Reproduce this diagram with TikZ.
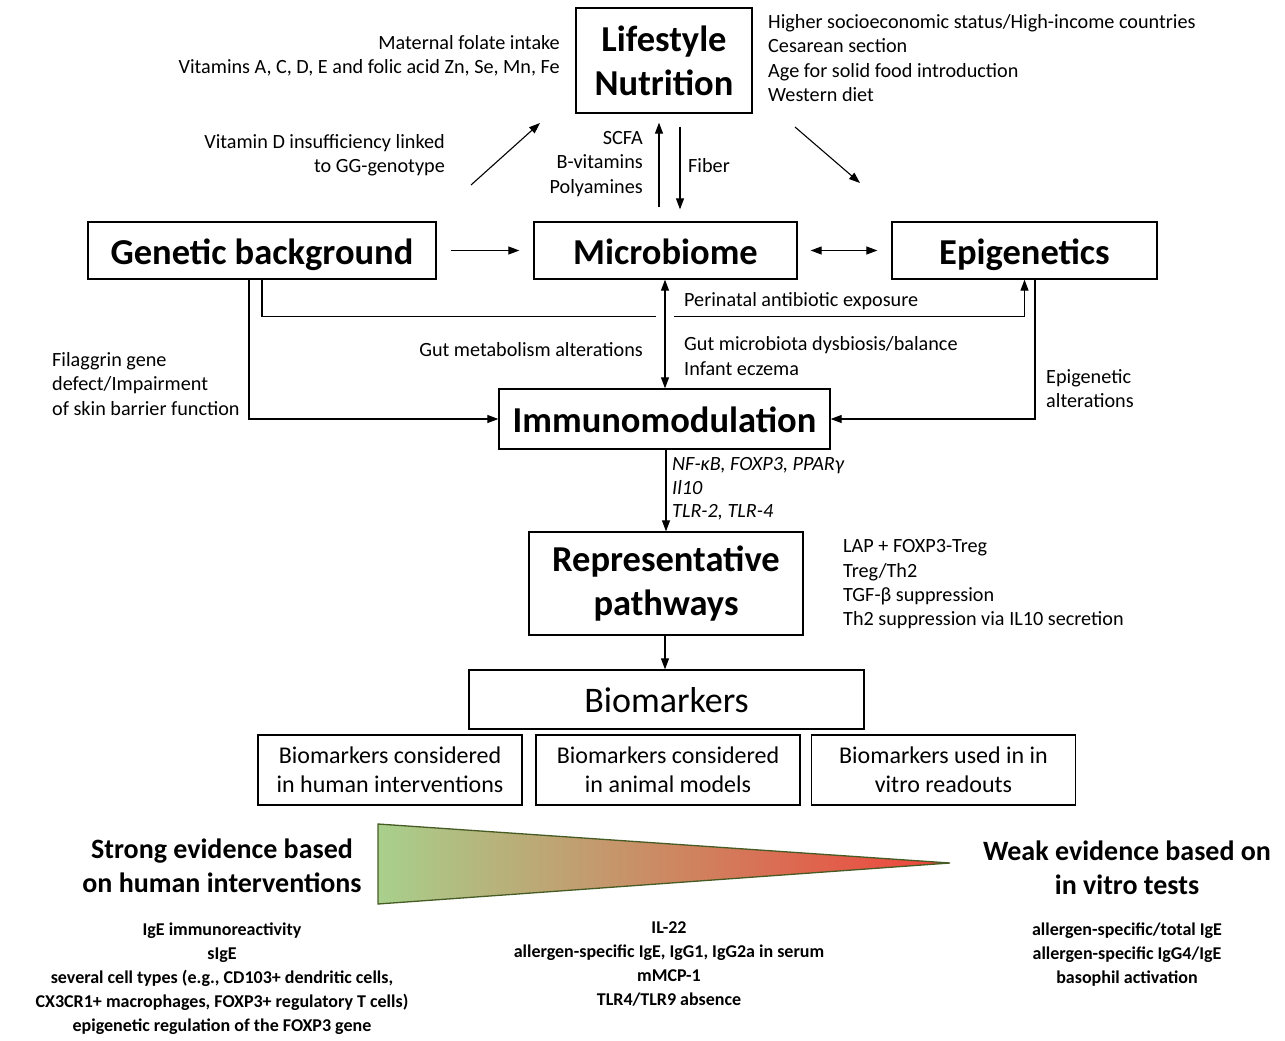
\documentclass[tikz,border=0pt]{standalone}
\usepackage{fontspec}
\setmainfont{Carlito}
\usetikzlibrary{arrows.meta}

\definecolor{trigreen}{RGB}{70,92,36}
\definecolor{lightgreen}{RGB}{168,208,140}
\definecolor{lightred}{RGB}{240,66,58}

\tikzset{
 box/.style={draw, line width=1.3pt, inner sep=0pt, align=center},
 title/.style={font=\fontsize{36.5}{44}\selectfont\bfseries},
 oneline/.style={text height=27pt, text depth=0pt},
 lbl/.style={font=\fontsize{20.2}{24.3}\selectfont, inner sep=0pt},
 blbl/.style={font=\fontsize{18}{24}\selectfont\bfseries, inner sep=0pt, align=center},
 arr/.style={line width=1.1pt, -{Triangle[length=11pt,width=8pt]}},
 darr/.style={line width=1.1pt, {Triangle[length=11pt,width=8pt]}-{Triangle[length=11pt,width=8pt]}},
}

\begin{document}
\begin{tikzpicture}[x=1pt, y=-1pt]
\useasboundingbox (0,0) rectangle (1285,1041);

% boxes
\node[box, title, minimum width=176, minimum height=105] (life) at (664,60.5) {Lifestyle\\Nutrition};
\node[box, title, oneline, minimum width=348, minimum height=57] (gen) at (262,250.5) {Genetic background};
\node[box, title, oneline, minimum width=263, minimum height=57] (micro) at (665.5,250.5) {Microbiome};
\node[box, title, oneline, minimum width=265, minimum height=57] (epi) at (1024.5,250.5) {Epigenetics};
\node[box, title, oneline, minimum width=331, minimum height=60] (imm) at (664.5,419) {Immunomodulation};
\node[box, title, minimum width=274, minimum height=103] (rep) at (666,583.5) {Representative\\pathways};
\node[box, font=\fontsize{36}{40}\selectfont, text height=26pt, text depth=0pt, minimum width=395, minimum height=59] (bio) at (666.5,699.5) {Biomarkers};
\foreach \n/\x/\t in {hum/390/{Biomarkers considered\\in human interventions},
                      ani/668/{Biomarkers considered\\in animal models},
                      vit/943.5/{Biomarkers used in in\\vitro readouts}}
  \node[box, font=\fontsize{24}{29}\selectfont, minimum width=264, minimum height=70] (\n) at (\x,770) {\t};

% labels
\node[lbl, anchor=east, align=right] (folate) at (560,56) {Maternal folate intake\\Vitamins A, C, D, E and folic acid Zn, Se, Mn, Fe};
\node[lbl, anchor=west, align=left] (ses) at (768,58) {Higher socioeconomic status/High-income countries\\Cesarean section\\Age for solid food introduction\\Western diet};
\node[lbl, anchor=east, align=right] (vitd) at (445,155) {Vitamin D insufficiency linked\\to GG-genotype};
\node[lbl, anchor=east, align=right] (scfa) at (643,164) {SCFA\\B-vitamins\\Polyamines};
\node[lbl, anchor=west] (fiber) at (688,166) {Fiber};
\node[lbl, anchor=west] (peri) at (684,301) {Perinatal antibiotic exposure};
\node[lbl, anchor=east] (gutmet) at (643,350) {Gut metabolism alterations};
\node[lbl, anchor=west, align=left] (dysb) at (684,356) {Gut microbiota dysbiosis/balance\\Infant eczema};
\node[lbl, anchor=west, align=left] (filag) at (52,384) {Filaggrin gene\\defect/Impairment\\of skin barrier function};
\node[lbl, anchor=west, align=left] (epialt) at (1046,388.5) {Epigenetic\\alterations};
\node[lbl, anchor=west, align=left, font=\fontsize{20.2}{23.5}\selectfont\itshape] (genes) at (672,489) {NF-κB, FOXP3, PPARγ\\Il10\\TLR-2, TLR-4};
\node[lbl, anchor=west, align=left] (treg) at (843,584.5) {LAP + FOXP3-Treg\\Treg/Th2\\TGF-β suppression\\Th2 suppression via IL10 secretion};

% evidence scale
\draw[draw=trigreen, line width=1.3pt, left color=lightgreen, right color=lightred]
  (378,824) coordinate (tl) -- (950,863) coordinate (tip) -- (378,904) coordinate (bl) -- cycle;
\node[inner sep=0pt, align=center, font=\fontsize{28}{34}\selectfont\bfseries] (strong) at (222,866) {Strong evidence based\\on human interventions};
\node[inner sep=0pt, align=center, font=\fontsize{28}{34}\selectfont\bfseries] (weak) at (1127,868) {Weak evidence based on\\in vitro tests};
\node[blbl] (humlist) at (222,979) {IgE immunoreactivity\\sIgE\\several cell types (e.g., CD103+ dendritic cells,\\CX3CR1+ macrophages, FOXP3+ regulatory T cells)\\epigenetic regulation of the FOXP3 gene};
\node[blbl] (anilist) at (669,964) {IL-22\\allergen-specific IgE, IgG1, IgG2a in serum\\mMCP-1\\TLR4/TLR9 absence};
\node[blbl] (vitlist) at (1127,955) {allergen-specific/total IgE\\allergen-specific IgG4/IgE\\basophil activation};

% connectors
\coordinate (vdA) at (471,185);
\coordinate (vdB) at (540,123);
\coordinate (wdA) at (795,127);
\coordinate (wdB) at (860,183);
\draw[arr] (vdA) -- (vdB);
\draw[arr] (wdA) -- (wdB);
\draw[arr, shorten <=14pt, shorten >=9pt] ([xshift=-6.5]micro.north) -- ([xshift=-6.5]micro.north |- life.south);
\draw[arr, shorten <=13pt, shorten >=12pt] ([xshift=14.5]micro.north |- life.south) -- ([xshift=14.5]micro.north);
\draw[arr, shorten <=14pt, shorten >=14pt] (gen) -- (micro);
\draw[darr, shorten <=13pt, shorten >=14pt] (micro) -- (epi);
\draw[darr] ([xshift=-0.5]micro.south) -- ([xshift=0.5]imm.north);
\draw[line width=1.1pt] (gen.south) -- ++(0,37) coordinate (gl) -- (gl -| 656,0);
\draw[arr] (gl -| 674,0) -| (epi.south);
\draw[arr] ([xshift=-13]gen.south) |- (imm.west);
\draw[arr] ([xshift=10.5]epi.south) |- (imm.east);
\draw[arr] ([xshift=1.5]imm.south) -- (rep.north);
\draw[arr] ([xshift=-1]rep.south) -- ([xshift=-1.5]bio.north);

\end{tikzpicture}
\end{document}
